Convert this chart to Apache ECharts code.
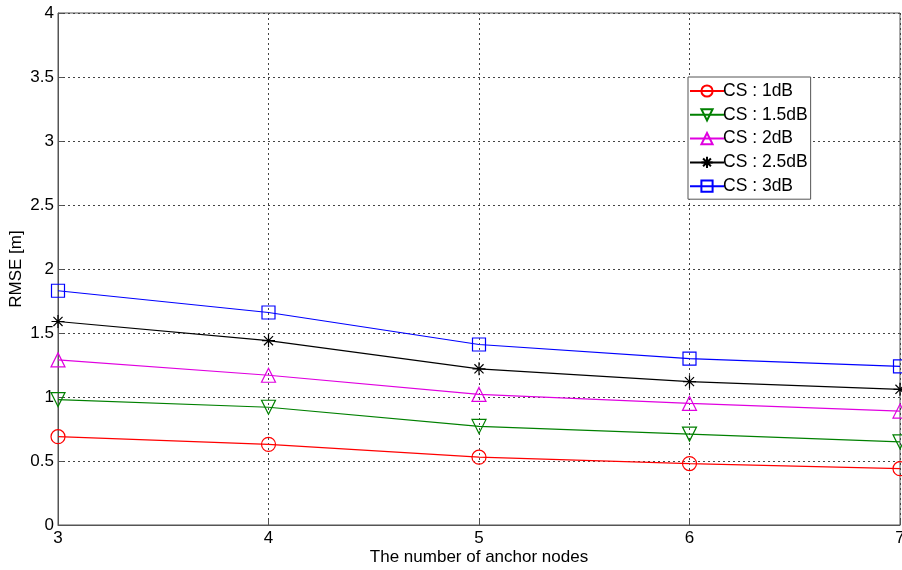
<!DOCTYPE html>
<html><head><meta charset="utf-8">
<script src="https://cdn.jsdelivr.net/npm/echarts@6/dist/echarts.min.js"></script>
<style>html,body{margin:0;padding:0;background:#fff}#c{width:902px;height:570px}</style>
</head><body><div id="c"></div>
<script>
const anchors = [3, 4, 5, 6, 7];
const cs1 = [0.69, 0.63, 0.53, 0.48, 0.44];
const cs15 = [0.98, 0.92, 0.77, 0.71, 0.65];
const cs2 = [1.29, 1.17, 1.02, 0.95, 0.89];
const cs25 = [1.59, 1.44, 1.22, 1.12, 1.06];
const cs3 = [1.83, 1.66, 1.41, 1.30, 1.24];
const names = ['CS : 1dB', 'CS : 1.5dB', 'CS : 2dB', 'CS : 2.5dB', 'CS : 3dB'];
const yTicks = [0, 0.5, 1, 1.5, 2, 2.5, 3, 3.5, 4];

const star = 'path://M0,-10L0,10M-10,0L10,0M-7,-7L7,7M-7,7L7,-7';
const styles = [
  {c:'#ff0000', sym:'circle', rot:0, size:14},
  {c:'#008000', sym:'triangle', rot:180, size:14},
  {c:'#e000e0', sym:'triangle', rot:0, size:14},
  {c:'#000000', sym:star, rot:0, size:13},
  {c:'#0000ff', sym:'rect', rot:0, size:13}
];
const data = [cs1, cs15, cs2, cs25, cs3];
const font = 'Liberation Sans, Arial, sans-serif';
const chart = echarts.init(document.getElementById('c'));
chart.setOption({
  animation: false,
  grid: {left: 58, right: 2, top: 13, bottom: 45, show: true, borderColor: '#555', borderWidth: 1,
    backgroundColor: '#fff', containLabel: false, outerBoundsMode: 'none'},
  legend: {
    orient: 'vertical', left: 688, top: 77, data: names,
    backgroundColor: '#fff', borderColor: '#555', borderWidth: 1,
    padding: [5, 3, 4, 1], itemGap: 5.8, itemWidth: 34, itemHeight: 14,
    textStyle: {fontFamily: font, fontSize: 17.5, color: '#000', padding: [0,0,0,-6]}
  },
  xAxis: {
    type: 'value', min: 3, max: 7, interval: 1,
    name: 'The number of anchor nodes', nameLocation: 'middle', nameGap: 24,
    nameMoveOverlap: false,
    nameTextStyle: {fontFamily: font, fontSize: 17, color: '#000'},
    axisLine: {show: true, onZero: false, lineStyle: {color: '#555'}},
    axisTick: {inside: true, length: 5, lineStyle: {color: '#555'}},
    axisLabel: {fontFamily: font, fontSize: 17, color: '#000', margin: 5},
    splitLine: {show: true, lineStyle: {color: '#444', type: [2, 3], width: 1}}
  },
  yAxis: {
    type: 'value', min: 0, max: 4, interval: 0.5,
    name: 'RMSE [m]', nameLocation: 'middle', nameGap: 33,
    nameMoveOverlap: false,
    nameTextStyle: {fontFamily: font, fontSize: 17, color: '#000'},
    axisLine: {show: true, lineStyle: {color: '#555'}},
    axisTick: {inside: true, length: 5, lineStyle: {color: '#555'}},
    axisLabel: {fontFamily: font, fontSize: 17, color: '#000', margin: 4,
      formatter: v => yTicks.includes(v) ? String(v) : ''},
    splitLine: {show: true, lineStyle: {color: '#444', type: [2, 3], width: 1}}
  },
  series: data.map((d, i) => ({
    name: names[i], type: 'line',
    data: anchors.map((x, j) => [x, d[j]]),
    symbol: styles[i].sym, symbolSize: styles[i].size, symbolRotate: styles[i].rot,
    showAllSymbol: true, clip: false,
    lineStyle: {color: styles[i].c, width: 1.2},
    itemStyle: {color: i === 3 ? '#000' : 'rgba(255,255,255,0)', borderColor: styles[i].c, borderWidth: 1.2},
    z: 3 + i
  }))
});
</script></body></html>
